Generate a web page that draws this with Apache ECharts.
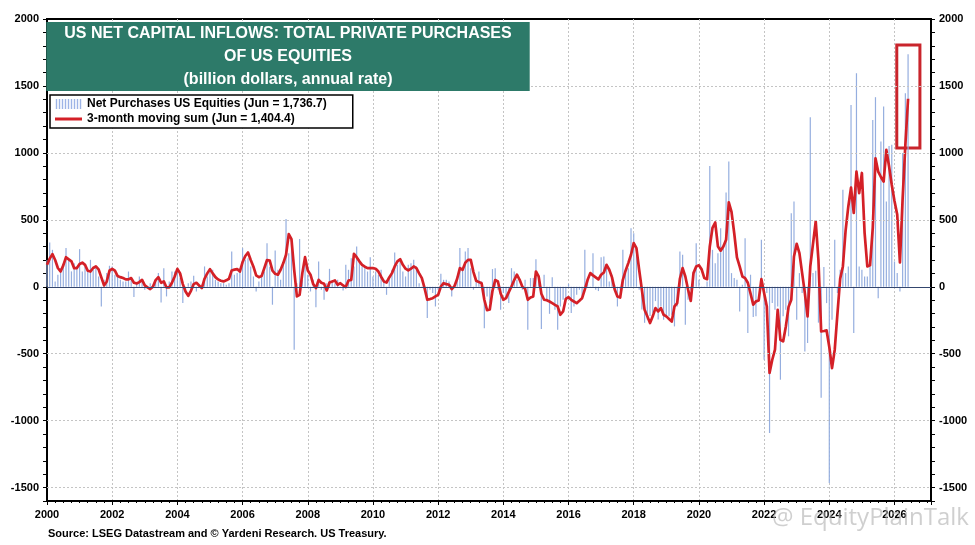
<!DOCTYPE html>
<html lang="en">
<head>
    <meta charset="UTF-8">
    <title>US Net Capital Inflows: Total Private Purchases of US Equities</title>

    <script src="https://cdn.jsdelivr.net/npm/echarts@6/dist/echarts.min.js"></script>

    <style>
        html, body { margin: 0; padding: 0; background: #fff; }
        #chart { width: 975px; height: 545px; }
    </style>
</head>
<body>
<div id="chart"></div>

<script type="text/javascript">
    // monthly figures from Jan 2000 to Jun 2026, billion dollars at annual rate
    const startYear = 2000;

    const purchases = [
        200, 331, 276, 40, 90, 139, 176, 289, 214, 115, 176, 152,          // 2000
        281, 115, 152, 127, 201, 127, 152, 77, -147, 52, 102, 157,         // 2001
        152, 90, 77, 52, 40, 40, 114, 52, -77, 27, 77, 52,                 // 2002
        -22, -10, 27, 15, 52, 102, -117, 139, -72, 40, 114, 114,           // 2003
        139, 65, -122, -22, 27, 40, 82, -35, -10, 15, 152, 77,             // 2004
        139, 127, 52, 40, 27, 27, 15, 27, 264, 90, 102, 139,               // 2005
        289, 201, 214, 152, 77, -35, 40, 77, 114, 326, 150, -134,          // 2006
        271, 127, 52, 189, 507, 251, 326, -470, 27, 356, 52, 226,          // 2007
        90, -35, 52, -152, 189, -22, -97, 27, 134, 40, 27, 52,             // 2008
        2, -27, 164, 127, 214, 152, 301, 201, 152, 139, 114, 221,          // 2009
        77, 114, 90, 127, 52, -60, 77, 127, 256, 164, 201, 114,            // 2010
        77, 164, 176, 201, 152, 27, 2, -10, -234, -22, -47, -147,          // 2011
        -22, 97, 52, 52, 40, -72, 15, 77, 289, 127, 264, 289,              // 2012
        139, -22, 52, 114, 40, -309, -72, -122, 132, 139, -22, -172,       // 2013
        -47, -85, -122, 139, 114, 52, 2, -22, 52, -321, 65, 65,            // 2014
        206, 52, -316, 90, -97, -202, 72, -172, -321, -147, -97, -97,      // 2015
        22, -196, -147, -60, -22, -97, 276, 52, 2, 251, -22, -32,          // 2016
        221, 226, 152, 40, 90, 15, -147, -22, 276, 102, 139, 438,          // 2017
        400, 239, -22, -169, -269, -244, -219, -194, -107, -244, -147, -246, // 2018
        -234, -221, -209, -296, -147, 264, 239, -283, -97, -22, 114, 326,  // 2019
        52, -10, 2, 40, 903, 276, 176, 251, 438, 313, 704, 935,            // 2020
        102, 65, 52, -184, 15, 363, -346, 90, -226, -221, 2, 351,          // 2021
        -545, -47, -1092, -122, -172, -147, -694, -221, -172, -370, 550, 637, // 2022
        -246, 102, -47, -483, -420, 1266, 102, 120, -268, -829, 147, -122, // 2023
        -1465, -246, 351, -47, 127, 724, 102, 152, 1358, -346, 1595, 152,  // 2024
        127, 77, 77, 152, 1246, 1416, -85, 1085, 1346, 637, 1052, 1060,    // 2025
        189, 102, -35, 1000, 1445, 1736.7                                  // 2026
    ];

    const movingSum = [
        164, 210, 244, 200, 140, 114, 160, 221, 205, 190, 139, 140,        // 2000
        170, 180, 164, 120, 114, 140, 152, 130, 70, 10, 40, 120,           // 2001
        134, 120, 80, 72, 65, 55, 55, 65, 30, 25, 35, 52,                  // 2002
        10, -5, -17, 0, 50, 72, 30, 40, -5, -5, 30, 77,                    // 2003
        134, 100, 20, -35, -67, -30, 20, 30, 10, -10, 60, 100,             // 2004
        132, 100, 72, 55, 45, 40, 48, 60, 122, 128, 132, 114,              // 2005
        185, 230, 256, 200, 150, 85, 72, 80, 139, 200, 195, 120,           // 2006
        97, 90, 127, 177, 239, 393, 356, 127, -72, -60, 102, 221,          // 2007
        122, 90, 20, -10, 52, 30, 22, -27, 32, 40, 47, 15,                 // 2008
        27, 10, -2, 47, 52, 246, 221, 190, 164, 150, 139, 139,             // 2009
        139, 135, 114, 75, 40, 32, 70, 102, 152, 190, 206, 164,            // 2010
        135, 122, 135, 152, 139, 100, 65, -10, -97, -92, -85, -72,         // 2011
        -60, 2, 27, 20, 15, -17, 5, 60, 139, 127, 180, 201,                // 2012
        201, 110, 45, 35, 27, -97, -175, -170, -30, 50, 40, -50,           // 2013
        -97, -85, -40, 2, 50, 90, 52, 0, -15, -97, -80, -72,               // 2014
        114, 77, -52, -97, -100, -110, -122, -135, -147, -209, -184, -90,  // 2015
        -77, -97, -110, -122, -105, -85, -20, 50, 102, 85, 70, 55,         // 2016
        90, 107, 164, 127, 70, -20, -72, -80, 52, 120, 177, 239,           // 2017
        326, 289, 127, -22, -172, -220, -271, -221, -159, -184, -159, -209, // 2018
        -221, -240, -259, -147, -122, 60, 139, 77, -20, -105, 102, 152,    // 2019
        160, 130, 65, 57, 301, 440, 480, 300, 270, 300, 351, 630,          // 2020
        560, 400, 220, 152, 77, 65, 30, -50, -134, -109, -102, 57,         // 2021
        -47, -147, -644, -545, -470, -172, -396, -408, -296, -150, -97, 226, // 2022
        321, 251, 102, -47, -221, 152, 320, 488, 200, -333, -330, -326,    // 2023
        -450, -607, -470, -200, 60, 152, 420, 600, 740, 552, 860, 700,     // 2024
        850, 400, 152, 160, 440, 960, 860, 820, 785, 1022, 900, 760,       // 2025
        640, 540, 182, 660, 1060, 1404.4                                   // 2026
    ];

    const yTicks = [-1500, -1000, -500, 0, 500, 1000, 1500, 2000];

    // red box drawn round the latest readings (axis units)
    const highlightFrom = [2026.07, 1806];
    const highlightTo = [2026.78, 1037];

    const barName = 'Net Purchases US Equities (Jun = 1,736.7)';
    const lineName = '3-month moving sum (Jun = 1,404.4)';

    const monthX = i => startYear + i / 12;

    const font = 'Liberation Sans';
    const gridDots = { color: '#c4c4c4', type: [2, 2], width: 1 };

    const stripeIcon = 'path://M0,0h1.4v10h-1.4zM3,0h1.4v10h-1.4zM6,0h1.4v10h-1.4zM9,0h1.4v10h-1.4z' +
        'M12,0h1.4v10h-1.4zM15,0h1.4v10h-1.4zM18,0h1.4v10h-1.4zM21,0h1.4v10h-1.4zM24,0h1.4v10h-1.4z';
    const lineIcon = 'path://M0,3.6h27v2.8h-27z M0,0h0.01v10h-0.01z';

    function sideAxis(position) {
        return {
            type: 'value',
            position: position,
            min: -1600,
            max: 2000,
            interval: 100,
            axisLine: { show: true, onZero: false, lineStyle: { color: '#000', width: 2 } },
            axisTick: { show: true, length: 4, lineStyle: { color: '#000', width: 1 } },
            axisLabel: {
                margin: 8,
                color: '#000',
                fontFamily: font,
                fontWeight: 'bold',
                fontSize: 11,
                formatter: v => yTicks.includes(v) ? String(v) : ''
            },
            splitLine: { show: false }
        };
    }

    let option = {
        animation: false,
        backgroundColor: '#fff',
        textStyle: { fontFamily: font },
        title: {
            text: 'US NET CAPITAL INFLOWS: TOTAL PRIVATE PURCHASES\nOF US EQUITIES\n(billion dollars, annual rate)',
            left: 270,
            top: 22,
            textAlign: 'center',
            backgroundColor: '#2d7a69',
            padding: [0, 18, 0, 18],
            textStyle: {
                color: '#fff',
                fontFamily: font,
                fontWeight: 'bold',
                fontSize: 16,
                lineHeight: 23
            }
        },
        legend: {
            left: 50,
            top: 95,
            orient: 'vertical',
            itemGap: 3,
            itemWidth: 27,
            itemHeight: 10,
            padding: [3, 26, 3, 5],
            backgroundColor: '#fff',
            borderColor: '#000',
            borderWidth: 1.5,
            selectedMode: false,
            textStyle: { color: '#000', fontFamily: font, fontWeight: 'bold', fontSize: 12 },
            data: [
                { name: barName, icon: stripeIcon, itemStyle: { color: '#9db4e6' } },
                { name: lineName, icon: lineIcon, itemStyle: { color: '#d42027' } }
            ]
        },
        grid: {
            left: 47,
            right: 44,
            top: 19,
            bottom: 44,
            show: true,
            borderColor: '#000',
            borderWidth: 2
        },
        xAxis: {
            type: 'value',
            min: 2000,
            max: 2027.12,
            interval: 2,
            axisLine: { show: true, onZero: false, lineStyle: { color: '#000', width: 2 } },
            axisTick: { show: true, length: 4, lineStyle: { color: '#000' } },
            minorTick: { show: true, splitNumber: 8, length: 2, lineStyle: { color: '#000' } },
            axisLabel: {
                margin: 8,
                color: '#000',
                fontFamily: font,
                fontWeight: 'bold',
                fontSize: 11,
                showMaxLabel: false,
                formatter: v => Number.isInteger(v) ? String(v) : ''
            },
            splitLine: { show: true, lineStyle: gridDots }
        },
        yAxis: [sideAxis('left'), sideAxis('right')],
        graphic: [
            {
                type: 'text',
                left: 48,
                top: 528,
                style: {
                    text: 'Source: LSEG Datastream and \u00a9 Yardeni Research. US Treasury.',
                    font: 'bold 11px "Liberation Sans"',
                    fill: '#000'
                }
            },
            {
                type: 'text',
                left: 772,
                top: 506,
                z: 100,
                style: {
                    text: '@ EquityPlainTalk',
                    font: '24px "Open Sans"',
                    fill: 'rgba(175,175,175,0.6)'
                }
            }
        ],
        series: [
            {
                name: barName,
                type: 'bar',
                yAxisIndex: 0,
                barWidth: 1.2,
                itemStyle: { color: '#95aedf' },
                data: purchases.map((v, i) => [monthX(i), v]),
                markLine: {
                    silent: true,
                    symbol: 'none',
                    label: { show: false },
                    data: yTicks.filter(v => v !== 0 && v !== 2000)
                        .map(v => ({ yAxis: v, lineStyle: gridDots }))
                        .concat([{ yAxis: 0, lineStyle: { color: '#34466e', type: 'solid', width: 1.2 } }])
                }
            },
            {
                name: lineName,
                type: 'line',
                yAxisIndex: 0,
                z: 4,
                symbol: 'none',
                lineStyle: { color: '#d42027', width: 2.7, join: 'round' },
                itemStyle: { color: '#d42027' },
                data: movingSum.map((v, i) => [monthX(i), v]),
                markArea: {
                    silent: true,
                    itemStyle: { color: 'rgba(0,0,0,0)', borderColor: '#c9252c', borderWidth: 3 },
                    data: [[
                        { xAxis: highlightFrom[0], yAxis: highlightFrom[1] },
                        { xAxis: highlightTo[0], yAxis: highlightTo[1] }
                    ]]
                }
            }
        ]
    };

    let myChart = echarts.init(document.getElementById('chart'));
    myChart.setOption(option);
</script>
</body>
</html>
